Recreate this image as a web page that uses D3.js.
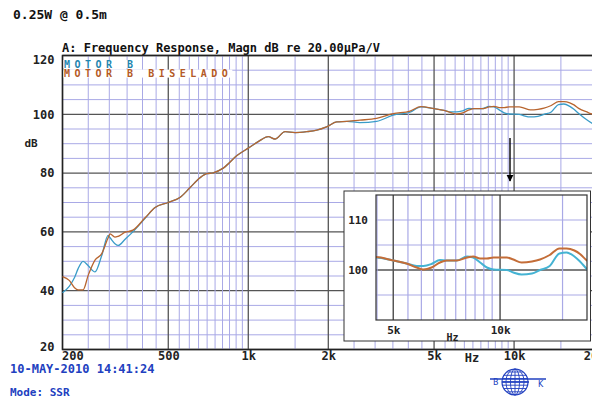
<!DOCTYPE html>
<html>
<head>
<meta charset="utf-8">
<script src="https://cdn.jsdelivr.net/npm/d3@7"></script>
<style>
  body{margin:0;background:#fff;}
  svg{display:block;font-family:"DejaVu Sans Mono",monospace;font-weight:bold;}
</style>
</head>
<body>
<svg id="chart" width="592" height="399"></svg>
<script>
/* ---------- data ---------- */
const freq   = [200,212,222,229,239,250,265,281,297,302,315,324,344,368,409,446,500,553,603,658,
                698,738,805,904,1000,1090,1190,1260,1375,1500,1660,1810,1970,2150,2350,2630,3040,3510,4060,4460,
                5000,5450,5820,6080,6410,6770,7070,7550,8070,8400,8790,9180,9580,10450,10900,11500,12300,12960,13800,14700,
                15400,16200,16800,17500,19000,20000];
const motorB = [39.3,41.5,44.5,47.5,50.0,48.5,46.4,52.0,58.8,58.0,56.0,55.4,57.5,60.0,64.6,68.3,70.0,71.7,75.0,78.4,
                79.8,80.1,81.7,85.9,88.5,90.7,92.4,91.6,94.1,93.8,94.1,94.6,95.7,97.4,97.6,97.2,97.6,99.7,100.7,102.5,
                101.9,101.3,100.8,100.8,101.2,102.0,101.9,101.9,102.7,102.5,101.5,100.5,100.1,100.0,99.5,99.1,99.3,100.0,100.8,103.3,
                103.5,102.7,101.7,100.3,97.8,96.5];
const motorBBiselado = [44.8,43.5,41.0,40.3,40.3,45.3,50.4,52.6,58.0,59.3,58.2,58.5,59.9,60.6,64.8,68.3,70.0,71.7,75.0,78.4,
                79.8,80.1,81.7,85.9,88.5,90.7,92.4,91.6,94.1,93.8,94.1,94.6,95.7,97.4,97.6,98.0,98.6,100.2,101.1,102.6,
                101.9,101.3,100.5,100.1,100.5,101.5,101.9,101.9,102.5,102.7,102.3,102.3,102.5,102.5,102.1,101.5,101.7,102.1,103.0,104.3,
                104.3,103.9,103.2,102.0,100.6,99.8];

const xTicks     = [200,500,1000,2000,5000,10000,20000];
const yTicks     = [20,40,60,80,100,120];
const insetXTicks= [5000,10000];
const insetYTicks= [100,110];

const series = [
  {name:"MOTOR B",          values:motorB,         color:"#3a9cc8", inset:"#45b3d3", text:"#1f86b0"},
  {name:"MOTOR B BISELADO", values:motorBBiselado, color:"#b8652f", inset:"#c46d38", text:"#b45a26"}
];

/* ---------- helpers ---------- */
const MINOR="#a9a9e6", MAJOR="#555", BLUE="#2140c0";
const fmtHz=f=>f>=1000?(f/1000)+"k":String(f);
// grid frequencies: mantissa 1,1.5,2,...,9.5 per decade
function gridFreqs(lo,hi){
  const out=[];
  for(let e=2;e<=4;e++) for(let m=1;m<10;m+=0.5){
    const f=m*Math.pow(10,e);
    if(f>=lo-1e-6&&f<=hi+1e-6) out.push({f,major:[1,2,5].includes(m)});
  }
  return out;
}

const svg=d3.select("#chart");

/* ---------- header text ---------- */
svg.append("text").attr("x",13).attr("y",19).attr("font-size",13).attr("fill","#111").text("0.25W @ 0.5m");
svg.append("text").attr("x",62).attr("y",52).attr("font-size",12).attr("fill","#111")
   .text("A: Frequency Response, Magn dB re 20.00µPa/V");

/* ---------- main plot ---------- */
const x=d3.scaleLog().domain([200,20000]).range([62.5,594.1]);
const y=d3.scaleLinear().domain([20,120]).range([349.5,55.5]);
const [X0,X1]=x.range(), [Y0,Y1]=y.range();

const main=svg.append("g");
// horizontal grid
const hLines=d3.range(20,121,5);
main.selectAll(".hg").data(hLines).join("line")
   .attr("x1",X0).attr("x2",X1).attr("y1",d=>y(d)).attr("y2",d=>y(d))
   .attr("stroke",d=>d%20===0?MAJOR:MINOR).attr("stroke-width",d=>d%20===0?1.3:1);
// vertical grid
const vLines=gridFreqs(200,20000);
main.selectAll(".vg").data(vLines.filter(d=>!d.major)).join("line")
   .attr("x1",d=>x(d.f)).attr("x2",d=>x(d.f)).attr("y1",Y1).attr("y2",Y0)
   .attr("stroke",MINOR).attr("stroke-width",1);
main.selectAll(".vgM").data(vLines.filter(d=>d.major)).join("line")
   .attr("x1",d=>x(d.f)).attr("x2",d=>x(d.f)).attr("y1",Y1).attr("y2",Y0)
   .attr("stroke",MAJOR).attr("stroke-width",1.3);
main.append("rect").attr("x",X0).attr("y",Y1).attr("width",X1-X0).attr("height",Y0-Y1)
   .attr("fill","none").attr("stroke","#222").attr("stroke-width",1.5);

// curves
const line=d3.line().x((d,i)=>x(freq[i])).y(d=>y(d)).curve(d3.curveMonotoneX);
main.selectAll(".curve").data(series).join("path")
   .attr("d",d=>line(d.values)).attr("fill","none")
   .attr("stroke",d=>d.color).attr("stroke-width",1.3);

// axes labels
const yAx=svg.append("g").attr("transform",`translate(${X0},0)`)
   .call(d3.axisLeft(y).tickValues(yTicks).tickSize(0).tickPadding(8));
yAx.select(".domain").remove();
yAx.selectAll("text").attr("font-family","DejaVu Sans Mono").attr("font-weight","bold")
   .attr("font-size",12).attr("fill","#222")
   .attr("dy",d=>d===120?"0.7em":d===20?"0.05em":"0.32em");
svg.append("text").attr("x",31).attr("y",147).attr("text-anchor","middle")
   .attr("font-size",11).attr("fill","#222").text("dB");

const xAx=svg.append("g").attr("transform",`translate(0,${Y0})`)
   .call(d3.axisBottom(x).tickValues(xTicks).tickFormat(fmtHz).tickSize(0).tickPadding(2));
xAx.select(".domain").remove();
xAx.selectAll("text").attr("font-family","DejaVu Sans Mono").attr("font-weight","bold")
   .attr("font-size",12).attr("fill","#222")
   .attr("text-anchor",d=>d===200?"start":"middle").attr("dx",d=>d===200?-1:0);
svg.append("text").attr("x",x(6950)).attr("y",Y0+12).attr("text-anchor","middle")
   .attr("font-size",12).attr("fill","#222").text("Hz");

// legend
series.forEach((s,i)=>{
  const g=svg.append("g");
  const t=g.append("text").attr("x",64).attr("y",67.5+i*9.6).attr("font-size",10)
     .attr("letter-spacing",4.5).attr("fill",s.text).text(s.name);
  const bb=t.node().getBBox();
  g.insert("rect","text").attr("x",X0+1).attr("y",bb.y+1.5).attr("width",bb.x+bb.width-X0-1)
     .attr("height",bb.height-3).attr("fill","#fff");
});

/* ---------- arrow ---------- */
svg.append("defs").append("marker").attr("id","ah").attr("viewBox","0 0 10 10")
   .attr("refX",9).attr("refY",5).attr("markerWidth",5).attr("markerHeight",6).attr("orient","auto")
   .append("path").attr("d","M0,0L10,5L0,10z").attr("fill","#000");
svg.append("line").attr("x1",510).attr("y1",138).attr("x2",510).attr("y2",181)
   .attr("stroke","#000").attr("stroke-width",1.4).attr("marker-end","url(#ah)");

/* ---------- inset ---------- */
const ix=d3.scaleLog().domain([4470,17580]).range([376,587]);
const iy=d3.scaleLinear().domain([90,115]).range([320,195]);
const [IX0,IX1]=ix.range(), [IY0,IY1]=iy.range();
const inset=svg.append("g");
inset.append("rect").attr("x",344).attr("y",191).attr("width",246.5).attr("height",150)
   .attr("fill","#fff").attr("stroke","#333").attr("stroke-width",1);
inset.selectAll(".ihg").data(d3.range(95,115,5)).join("line")
   .attr("x1",IX0).attr("x2",IX1).attr("y1",d=>iy(d)).attr("y2",d=>iy(d))
   .attr("stroke",d=>d===100?MAJOR:MINOR).attr("stroke-width",d=>d===100?1.5:1.2);
const ivLines=gridFreqs(4470,17580);
inset.selectAll(".ivg").data(ivLines).join("line")
   .attr("x1",d=>ix(d.f)).attr("x2",d=>ix(d.f)).attr("y1",IY1).attr("y2",IY0)
   .attr("stroke",d=>d.major?MAJOR:MINOR).attr("stroke-width",d=>d.major?1.5:1.2);
inset.append("clipPath").attr("id","iclip").append("rect")
   .attr("x",IX0).attr("y",IY1).attr("width",IX1-IX0).attr("height",IY0-IY1);
const iline=d3.line().x((d,i)=>ix(freq[i])).y(d=>iy(d)).curve(d3.curveMonotoneX);
inset.append("g").attr("clip-path","url(#iclip)")
   .selectAll("path").data(series).join("path")
   .attr("d",d=>iline(d.values)).attr("fill","none")
   .attr("stroke",d=>d.inset).attr("stroke-width",2);
inset.append("rect").attr("x",IX0).attr("y",IY1).attr("width",IX1-IX0).attr("height",IY0-IY1)
   .attr("fill","none").attr("stroke","#333").attr("stroke-width",1.2);

const iyAx=inset.append("g").attr("transform",`translate(${IX0},0)`)
   .call(d3.axisLeft(iy).tickValues(insetYTicks).tickSize(0).tickPadding(8));
iyAx.select(".domain").remove();
iyAx.selectAll("text").attr("font-family","DejaVu Sans Mono").attr("font-weight","bold")
   .attr("font-size",11).attr("fill","#222");
const ixAx=inset.append("g").attr("transform",`translate(0,${IY0})`)
   .call(d3.axisBottom(ix).tickValues(insetXTicks).tickFormat(fmtHz).tickSize(0).tickPadding(6));
ixAx.select(".domain").remove();
ixAx.selectAll("text").attr("font-family","DejaVu Sans Mono").attr("font-weight","bold")
   .attr("font-size",11).attr("fill","#222");
inset.append("text").attr("x",ix(7350)).attr("y",IY0+21).attr("text-anchor","middle")
   .attr("font-size",10).attr("fill","#222").text("Hz");

/* ---------- footer ---------- */
svg.append("text").attr("x",10).attr("y",373).attr("font-size",12).attr("fill",BLUE).text("10-MAY-2010 14:41:24");
svg.append("text").attr("x",10).attr("y",396).attr("font-size",11).attr("fill",BLUE).text("Mode: SSR");

// B&K globe logo
const logo=svg.append("g").attr("stroke",BLUE).attr("fill","none");
const cx=515, cy=382, r=13;
logo.append("circle").attr("cx",cx).attr("cy",cy).attr("r",r).attr("stroke-width",1.2);
[0.35,0.7].forEach(k=>logo.append("ellipse").attr("cx",cx).attr("cy",cy).attr("rx",r*k).attr("ry",r).attr("stroke-width",0.9));
logo.append("line").attr("x1",cx).attr("x2",cx).attr("y1",cy-r).attr("y2",cy+r).attr("stroke-width",0.9);
d3.range(-10,11,3.3).forEach(dy=>{
  const w=Math.sqrt(Math.max(0,r*r-dy*dy));
  logo.append("line").attr("x1",cx-w).attr("x2",cx+w).attr("y1",cy+dy).attr("y2",cy+dy).attr("stroke-width",0.9);
});
logo.append("line").attr("x1",490).attr("x2",546).attr("y1",379).attr("y2",379).attr("stroke-width",1.6);
logo.append("line").attr("x1",502).attr("x2",529).attr("y1",382).attr("y2",382).attr("stroke-width",1.6);
svg.append("text").attr("x",493).attr("y",385).attr("font-size",8).attr("font-weight","normal")
   .attr("font-family","DejaVu Sans").attr("fill",BLUE).text("B");
svg.append("text").attr("x",538).attr("y",387).attr("font-size",8).attr("font-weight","normal")
   .attr("font-family","DejaVu Sans").attr("fill",BLUE).text("K");
</script>
</body>
</html>
